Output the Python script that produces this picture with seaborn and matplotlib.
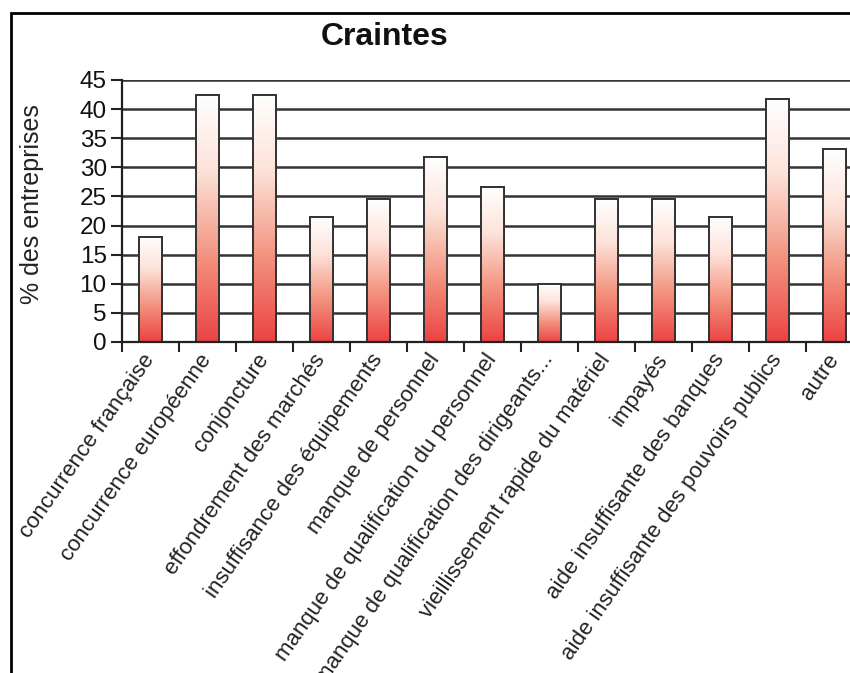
import numpy as np
import pandas as pd
import matplotlib
matplotlib.use("Agg")
import matplotlib.pyplot as plt
from matplotlib.colors import LinearSegmentedColormap
from matplotlib.patches import Rectangle
import seaborn as sns

categories = [
    "concurrence française",
    "concurrence européenne",
    "conjoncture",
    "effondrement des marchés",
    "insuffisance des équipements",
    "manque de personnel",
    "manque de qualification du personnel",
    "manque de qualification des dirigeants...",
    "vieillissement rapide du matériel",
    "impayés",
    "aide insuffisante des banques",
    "aide insuffisante des pouvoirs publics",
    "autre",
]
values = [18.1, 42.4, 42.4, 21.5, 24.6, 31.8, 26.7, 9.9, 24.5, 24.5, 21.5, 41.7, 33.1]
y_ticks = [0, 5, 10, 15, 20, 25, 30, 35, 40, 45]

sns.set_theme(style="white")
plt.rcParams["font.family"] = ["Liberation Sans", "DejaVu Sans"]

df = pd.DataFrame({"crainte": categories, "pct": values})

fig = plt.figure(figsize=(8.5, 6.73), dpi=100)
fig.patch.set_facecolor("white")
ax = fig.add_axes([122 / 850, 1 - 342 / 673, 741 / 850, 262 / 673])
ax.set_facecolor("white")

# horizontal grid behind the bars
for yv in y_ticks:
    ax.axhline(yv, color="#333333", lw=1.8, zorder=0.5)

sns.barplot(data=df, x="crainte", y="pct", ax=ax, color="white",
            width=0.39, edgecolor="#333333", linewidth=1.4, zorder=2)

# white-to-red vertical gradient inside every bar
cmap = LinearSegmentedColormap.from_list(
    "fade", [(0.0, "#ec4343"), (0.35, "#f39480"), (0.7, "#fde3da"), (1.0, "#ffffff")])
grad = np.linspace(0, 1, 256).reshape(-1, 1)
for bar in list(ax.patches):
    x0 = bar.get_x()
    w = bar.get_width()
    h = bar.get_height()
    im = ax.imshow(grad, cmap=cmap, origin="lower", aspect="auto",
                   extent=(x0, x0 + w, 0, h), zorder=2.1, interpolation="bilinear")
    im.set_clip_path(bar)
    edge = Rectangle((x0, 0), w, h, fill=False, edgecolor="#333333", lw=1.4, zorder=2.2)
    ax.add_patch(edge)

ax.set_xlim(-0.5, len(categories) - 0.5)
ax.set_ylim(0, 45)
ax.set_yticks(y_ticks)
ax.set_yticklabels([str(v) for v in y_ticks], fontsize=17.5)
ax.set_xticks(range(len(categories)))
ax.set_xticklabels(categories, rotation=55, ha="right", va="center",
                   rotation_mode="anchor", fontsize=16, color="#222222")
ax.set_xticks(np.arange(-0.5, len(categories), 1), minor=True)
ax.tick_params(axis="x", which="major", length=0, pad=10)
ax.tick_params(axis="x", which="minor", length=7, width=1.5, color="#222222",
               direction="out", bottom=True)
ax.tick_params(axis="y", length=8, width=1.5, color="#222222", direction="out",
               left=True, pad=3, labelcolor="#111111")
ax.set_xlabel("")
ax.set_ylabel("")
for side in ["top", "right"]:
    ax.spines[side].set_visible(False)
for side in ["left", "bottom"]:
    ax.spines[side].set_color("#222222")
    ax.spines[side].set_linewidth(1.6)

fig.text(385 / 850, 1 - 37 / 673, "Craintes", ha="center", va="center",
         fontsize=23, fontweight="bold", color="#111111")
fig.text(32 / 850, 1 - 204 / 673, "% des entreprises", ha="center", va="center",
         rotation=90, fontsize=18, color="#222222")

# outer frame around the chart
frame = Rectangle((11 / 850, -0.2), 1.2, 1.2 - 13 / 673, transform=fig.transFigure,
                  fill=False, edgecolor="black", lw=2, clip_on=False)
fig.patches.append(frame)

fig.savefig("out.png", dpi=100, facecolor="white")
